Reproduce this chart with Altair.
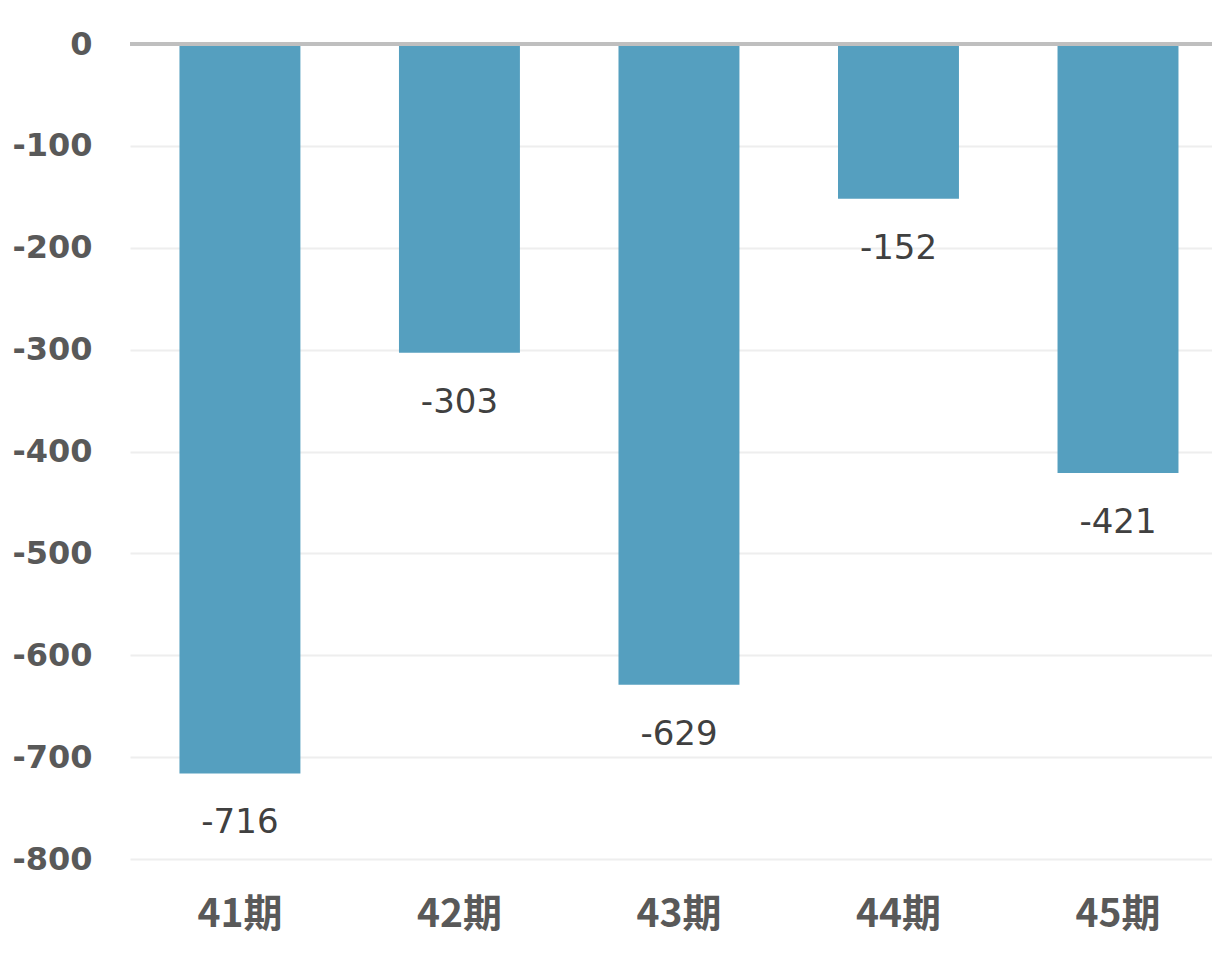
import altair as alt
import pandas as pd

categories = ["41期", "42期", "43期", "44期", "45期"]
values = [-716, -303, -629, -152, -421]
y_ticks = [0, -100, -200, -300, -400, -500, -600, -700, -800]

df = pd.DataFrame({"period": categories, "value": values,
                   "label": [str(v) for v in values]})

x_scale = alt.Scale(paddingInner=0.449, paddingOuter=0.189, align=0.596)
y_scale = alt.Scale(domain=[-800, 0], nice=False)

x_enc = alt.X("period:N", sort=categories, title=None, scale=x_scale,
              axis=alt.Axis(labelAngle=0, labelFontSize=39, labelFontWeight="bold",
                            labelColor="#595959", labelFont="Noto Sans CJK JP",
                            labelPadding=36, ticks=False, domain=False, grid=False))
y_enc = alt.Y("value:Q", title=None, scale=y_scale,
              axis=alt.Axis(values=y_ticks, labelFontSize=32, labelFontWeight="bold",
                            labelColor="#595959", labelFont="DejaVu Sans",
                            labelExpr="replace(datum.label, '\u2212', '-')",
                            labelPadding=38, ticks=False, domain=False,
                            gridColor="#EEEEEE", gridWidth=2))

bars = alt.Chart(df).mark_bar(color="#4E9BBC", opacity=0.96).encode(x=x_enc, y=y_enc)

labels = alt.Chart(df).mark_text(fontSize=34, color="#404040", font="DejaVu Sans",
                                 baseline="middle", dy=50).encode(
    x=alt.X("period:N", sort=categories), y="value:Q", text="label:N")

zero = alt.Chart(pd.DataFrame({"z": [0]})).mark_rule(color="#BFBFBF", strokeWidth=4).encode(
    y="z:Q")

chart = alt.layer(bars, labels, zero).properties(
    width=1082, height=815,
    background="white",
    autosize=alt.AutoSizeParams(type="none"),
    padding={"left": 122, "top": 36, "right": 0, "bottom": 100},
).configure_view(stroke=None).configure_axis(domain=False)

chart.save("out.html", embed_options={"renderer": "svg", "actions": False})
